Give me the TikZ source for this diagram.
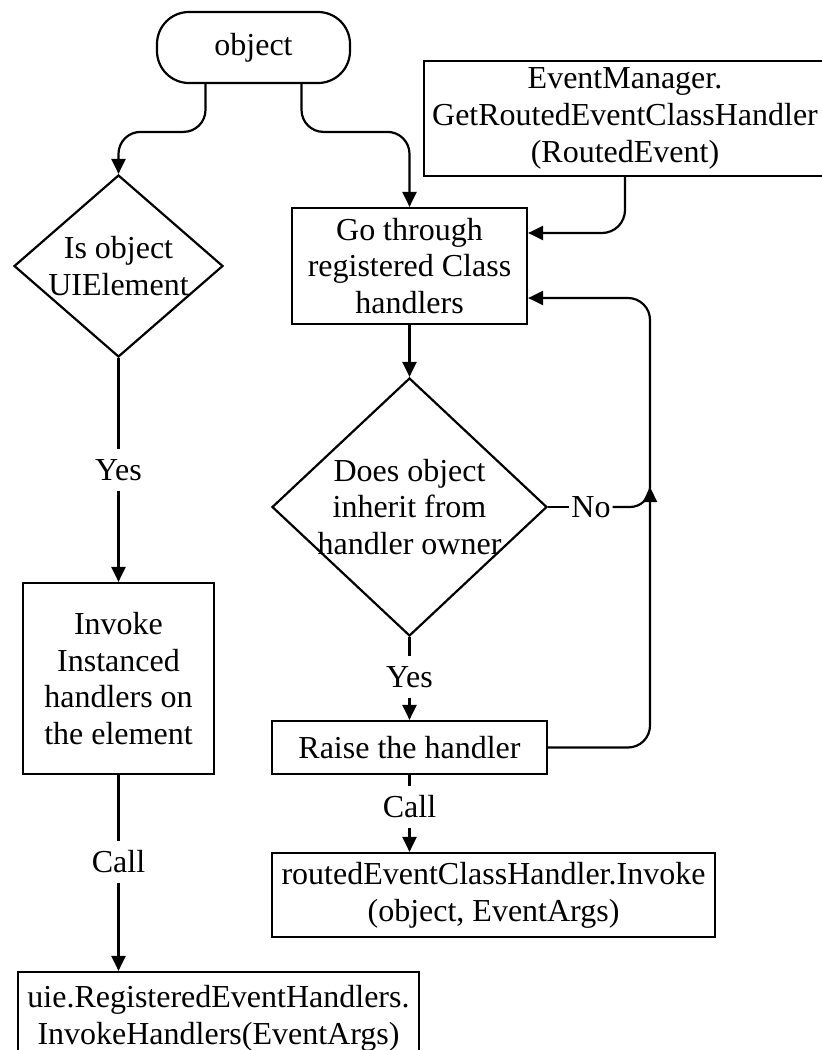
\documentclass[tikz,border=0pt]{standalone}
\usepackage{fontspec}
\setmainfont{Liberation Serif}
\usetikzlibrary{arrows.meta,shapes.geometric,calc}
\begin{document}
\begin{tikzpicture}[x=1pt,y=-1pt,
  line width=2.2pt,
  font=\fontsize{32}{36.8}\selectfont,
  conn/.style={draw},
  arr/.style={draw, -{Triangle[length=15pt,width=14pt]}},
  box/.style={draw, rectangle, align=center, inner sep=0pt},
  dia/.style={draw, diamond, inner sep=0pt},
  txt/.style={align=center, inner sep=0pt},
  lab/.style={inner xsep=1pt, inner ysep=9pt},
  ]
\useasboundingbox (0,0) rectangle (822,1050);

% process and decision nodes
\node[box, rounded corners=32pt, minimum width=193pt, minimum height=71pt] (obj) at (253.5,47.5) {object};
\node[box, minimum width=402pt, minimum height=115pt] (em) at (625,118.5)
  {EventManager.\\GetRoutedEventClassHandler\\(RoutedEvent)};
\node[box, minimum width=235pt, minimum height=116pt] (go) at (409.5,266)
  {Go through\\registered Class\\handlers};
\node[dia, minimum width=209pt, minimum height=182pt] (d1) at (118.5,266) {};
\node[txt] (d1t) at (d1.center) {Is object\\UIElement};
\node[dia, minimum width=275pt, minimum height=258pt] (d2) at (409.5,507) {};
\node[txt] (d2t) at (d2.center) {Does object\\inherit from\\handler owner};
\node[box, minimum width=191pt, minimum height=191pt] (inv) at (118.5,678.5)
  {Invoke\\Instanced\\handlers on\\the element};
\node[box, minimum width=275pt, minimum height=53pt] (raise) at (409.5,747.5) {Raise the handler};
\node[box, minimum width=443pt, minimum height=84pt] (rech) at (493.5,895)
  {routedEventClassHandler.Invoke\\(object, EventArgs)};
\node[box, minimum width=401pt, minimum height=92pt] (uie) at (218.5,1018)
  {uie.RegisteredEventHandlers.\\InvokeHandlers(EventArgs)};

% edge labels
\node[lab] (yes1) at (118.5,470) {Yes};
\node[lab] (call1) at (118.5,862) {Call};
\node[lab] (yes2) at (409.5,677) {Yes};
\node[lab] (call2) at (409.5,807) {Call};
\node[lab] (no) at (591,507) {No};
\coordinate (jn) at (650,487);

% connectors
\draw[arr, rounded corners=22pt] ($(obj.south)+(-48,0)$) |- ($(d1.north)+(0,-42)$) -- (d1.north);
\draw[arr, rounded corners=22pt] ($(obj.south)+(48,0)$) |- ($(go.north)+(0,-75)$) -- (go.north);
\draw[arr, rounded corners=23pt] (em.south) |- ($(go.east)+(0,-33)$);
\draw[arr] (go.south) -- (d2.north);

\draw[conn] (d1.south) -- (yes1.north);
\draw[arr] (yes1.south) -- (inv.north);
\draw[conn] (inv.south) -- (call1.north);
\draw[arr] (call1.south) -- (call1.south |- uie.north);

\draw[conn] (d2.south) -- (yes2.north);
\draw[arr] (yes2.south) -- (raise.north);
\draw[conn] (raise.south) -- (call2.north);
\draw[arr] (call2.south) -- (call2.south |- rech.north);

\draw[conn] (d2.east) -- (no.west);
\draw[conn, rounded corners=20pt] (no.east) -- (jn |- no.east) -- (jn);
\draw[arr, rounded corners=22pt] (raise.east) -| (jn);
\draw[arr, rounded corners=22pt] (jn) |- ($(go.east)+(0,32)$);
\end{tikzpicture}
\end{document}
